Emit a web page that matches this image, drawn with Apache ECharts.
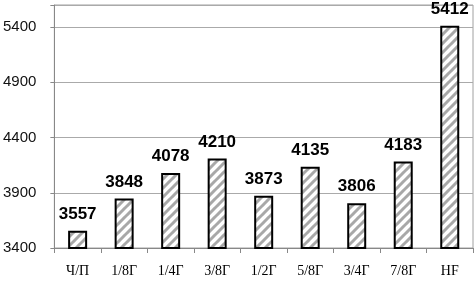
<!DOCTYPE html>
<html><head><meta charset="utf-8">
<script src="https://cdn.jsdelivr.net/npm/echarts@6/dist/echarts.min.js"></script>
<style>html,body{margin:0;padding:0;background:#fff}#c{width:475px;height:282px}</style>
</head><body><div id="c"></div>
<script>
const categories = ['Ч/П','1/8Г','1/4Г','3/8Г','1/2Г','5/8Г','3/4Г','7/8Г','HF'];
const values = [3557,3848,4078,4210,3873,4135,3806,4183,5412];
const yTicks = [3400,3900,4400,4900,5400];

function makePattern(){
  const s = 9;
  const c = document.createElement('canvas');
  c.width = s; c.height = s;
  const g = c.getContext('2d');
  g.fillStyle = '#fff'; g.fillRect(0,0,s,s);
  g.strokeStyle = '#a8a8a8'; g.lineWidth = 3;
  for (let k=-1;k<=1;k++){
    g.beginPath();
    g.moveTo(k*s - 1, s + 1);
    g.lineTo(k*s + s + 1, -1);
    g.stroke();
  }
  return c;
}

const chart = echarts.init(document.getElementById('c'), null, {renderer:'canvas'});
chart.setOption({
  animation:false,
  grid:{left:54,right:2,top:5,bottom:34,show:true,borderColor:'#a0a0a0',borderWidth:1},
  xAxis:{type:'category',data:categories,
    axisLine:{lineStyle:{color:'#888',width:1}},
    axisTick:{show:true,length:5,lineStyle:{color:'#888'}},
    axisLabel:{fontFamily:'Liberation Serif',fontSize:14,color:'#000',margin:16}},
  yAxis:{type:'value',min:3400,max:5600,interval:500,
    axisLine:{show:true,lineStyle:{color:'#888'}},
    axisTick:{show:true,length:4,lineStyle:{color:'#888'}},
    splitLine:{lineStyle:{color:'#aaa',width:1}},
    axisLabel:{fontFamily:'Liberation Sans',fontSize:15,color:'#111',margin:18,
      formatter:v=>yTicks.includes(v)?String(v):''},
    },
  series:[{type:'bar',data:values,barWidth:19,
    itemStyle:{color:{image:makePattern(),repeat:'repeat'},borderColor:'#000',borderWidth:2},
    label:{show:true,position:'top',distance:8,fontFamily:'Liberation Sans',fontWeight:'bold',fontSize:17,color:'#000'}}]
});
</script></body></html>
